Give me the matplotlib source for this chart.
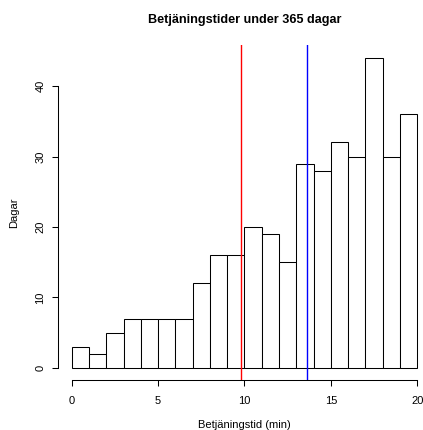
import matplotlib
matplotlib.use("Agg")
import matplotlib.pyplot as plt
import numpy as np

plt.rcParams['font.family'] = ['Liberation Sans', 'DejaVu Sans']

# Histogram of service times (minutes), one-minute bins
bin_edges = list(range(0, 21))
day_counts = [3, 2, 5, 7, 7, 7, 7, 12, 16, 16, 20, 19, 15, 29, 28, 32, 30, 44, 30, 36]
mean_time = 9.78
median_time = 13.62

title = "Betjäningstider under 365 dagar"
xlabel = "Betjäningstid (min)"
ylabel = "Dagar"
x_ticks = [0, 5, 10, 15, 20]
y_ticks = [0, 10, 20, 30, 40]

W, H = 423, 430
fig = plt.figure(figsize=(W / 100, H / 100), dpi=100)

# plot region in pixels (base-R style, 4% padding around the data range)
left_px, right_px, top_px, bottom_px = 57.9, 431.0, 45.4, 380.4
ax = fig.add_axes([left_px / W, 1 - bottom_px / H,
                   (right_px - left_px) / W, (bottom_px - top_px) / H])

xmin, xmax = bin_edges[0], bin_edges[-1]
ymax = max(day_counts)
xpad = 0.04 * (xmax - xmin)
ypad = 0.04 * ymax
ax.set_xlim(xmin - xpad, xmax + xpad)
ax.set_ylim(-ypad, ymax + ypad)

ax.bar(bin_edges[:-1], day_counts, width=np.diff(bin_edges), align='edge',
       facecolor='white', edgecolor='black', linewidth=0.75, zorder=2)

ax.axvline(mean_time, color='#FF0000', linewidth=1.0, zorder=3)
ax.axvline(median_time, color='#0000FF', linewidth=1.0, zorder=3)

for side in ['top', 'right']:
    ax.spines[side].set_visible(False)
ax.spines['bottom'].set_bounds(x_ticks[0], x_ticks[-1])
ax.spines['left'].set_bounds(y_ticks[0], y_ticks[-1])
for side in ['bottom', 'left']:
    ax.spines[side].set_linewidth(0.75)
    ax.spines[side].set_color('black')

ax.set_xticks(x_ticks)
ax.set_yticks(y_ticks)
ax.tick_params(axis='both', direction='out', length=4.0, width=0.75,
               labelsize=8, colors='black')
ax.tick_params(axis='x', pad=7)
ax.tick_params(axis='y', pad=5)
for lab in ax.get_yticklabels():
    lab.set_rotation(90)
    lab.set_va('center')

cx = (left_px + right_px) / 2
fig.text(cx / W, 1 - 20 / H, title, ha='center', va='center',
         fontsize=9.1, fontweight='bold')
fig.text(cx / W, 1 - 427.5 / H, xlabel, ha='center', va='baseline', fontsize=8)
fig.text(14 / W, 1 - (top_px + bottom_px) / 2 / H, ylabel, ha='center',
         va='center', rotation=90, fontsize=8)

fig.savefig("out.png", dpi=100)
